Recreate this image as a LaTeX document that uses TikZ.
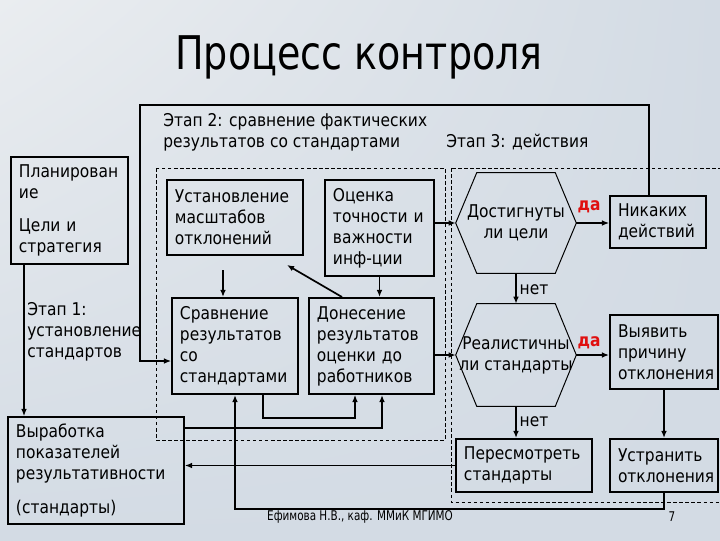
\documentclass[tikz,border=0pt]{standalone}
\usepackage{fontspec}
\setmainfont{DejaVu Sans}[FakeStretch=0.88]
\newfontfamily\titlefont{DejaVu Sans}[FakeStretch=0.82]
\newfontfamily\footfont{DejaVu Sans}[FakeStretch=0.78]
\usetikzlibrary{arrows.meta,calc,shadings}
\definecolor{bgmain}{HTML}{D3DBE4}
\definecolor{bglight}{HTML}{EAEDF0}
\definecolor{dared}{HTML}{E01010}
\newcommand\boxfnt{\fontsize{12.5pt}{14.9pt}\selectfont}
\tikzset{
  box/.style={draw=black, line width=1.4pt, align=left, inner xsep=0.2cm, inner ysep=0pt, font=\boxfnt},
  hexn/.style={inner sep=0pt, align=center, font=\boxfnt},
  hexline/.style={draw=black, line width=0.7pt},
  lbl/.style={inner sep=0pt, align=left, font=\boxfnt, anchor=west},
  yes/.style={inner sep=0pt, font=\boxfnt\bfseries, text=dared},
  arr/.style={line width=1.2pt, -{Latex[length=5pt,width=4pt]}},
  thinarr/.style={line width=0.8pt, -{Latex[length=5pt,width=4pt]}},
  stagebox/.style={draw=black, line width=0.6pt, dash pattern=on 2.5pt off 1.8pt},
}
\begin{document}
\begin{tikzpicture}[x=0.025cm,y=-0.025cm]
\useasboundingbox (0,0) rectangle (720,540);
\clip (0,0) rectangle (720,540);
\shade[upper left=bglight, upper right=bgmain, lower left=bgmain, lower right=bgmain] (0,0) rectangle (720,540);

% title
\node[inner sep=0pt, font=\titlefont\fontsize{33pt}{37pt}\selectfont] (title) at (359,57) {Процесс контроля};

% stage frames
\draw[stagebox] (156,168) rectangle (445,440);
\draw[stagebox] (451,168) rectangle (730,502);

% labels
\node[lbl] (l2) at (163,132) {Этап 2: сравнение фактических\\результатов со стандартами};
\node[lbl] (l3) at (446,142) {Этап 3: действия};
\node[lbl] (l1) at (27,332) {Этап 1:\\установление\\стандартов};

% boxes
\node[box, minimum width=2.925cm, minimum height=2.675cm, text width=2.525cm] (plan) at (69.5,210.5) {Планирован\\ие\\[8.5pt]Цели и\\стратегия};
\node[box, minimum width=4.4cm, minimum height=2.675cm, text width=4.0cm] (vyr) at (96,470.5) {Выработка\\показателей\\результативности\\[9pt](стандарты)};
\node[box, minimum width=3.4cm, minimum height=1.875cm, text width=3.0cm] (ust) at (235,217.5) {Установление\\масштабов\\отклонений};
\node[box, minimum width=2.725cm, minimum height=2.4cm, text width=2.325cm] (ocen) at (379.5,228) {Оценка\\точности и\\важности\\инф-ции};
\node[box, minimum width=3.15cm, minimum height=2.4cm, text width=2.75cm] (srav) at (235,346) {Сравнение\\результатов\\со\\стандартами};
\node[box, minimum width=3.125cm, minimum height=2.4cm, text width=2.725cm] (don) at (371.5,346) {Донесение\\результатов\\оценки до\\работников};
\node[box, minimum width=2.4cm, minimum height=1.3cm, text width=2.0cm] (nik) at (658,222) {Никаких\\действий};
\node[box, minimum width=2.7cm, minimum height=1.85cm, text width=2.3cm] (vyy) at (664,352) {Выявить\\причину\\отклонения};
\node[box, minimum width=2.7cm, minimum height=1.325cm, text width=2.3cm] (ustr) at (664,465.5) {Устранить\\отклонения};
\node[box, minimum width=3.4cm, minimum height=1.325cm, text width=3.0cm] (peres) at (524,465.5) {Пересмотреть\\стандарты};

% hexagons
\node[hexn, minimum width=3cm, minimum height=2.5cm] (h1) at (516,223) {Достигнуты\\ли цели};
\node[hexn, minimum width=3cm, minimum height=2.55cm] (h2) at (516,355) {Реалистичны\\ли стандарты};
\foreach \h in {h1,h2}{
  \draw[hexline] (\h.west) -- ([xshift=0.525cm]\h.north west) -- ([xshift=-0.525cm]\h.north east)
    -- (\h.east) -- ([xshift=-0.525cm]\h.south east) -- ([xshift=0.525cm]\h.south west) -- cycle;
}

% yes / no labels
\node[yes] (da1) at (589,207) {да};
\node[yes] (da2) at (589,343) {да};
\node[inner sep=0pt, font=\boxfnt] (net1) at (534,290) {нет};
\node[inner sep=0pt, font=\boxfnt] (net2) at (534,422) {нет};

% footer
\node[inner sep=0pt, font=\footfont\fontsize{9.5pt}{11pt}\selectfont] (foot) at (360,517) {Ефимова Н.В., каф. ММиК МГИМО};
\node[inner sep=0pt, font=\footfont\fontsize{9.5pt}{11pt}\selectfont] (pg) at (672,517) {7};

% connectors
\coordinate (nikTop) at ($(nik.north)+(-9,0)$);
\coordinate (sravIn) at ($(srav.west)+(0,15)$);
\draw[thinarr] (nikTop) |- (140,105) -- (140,361) -- (sravIn);

\coordinate (planOut) at ($(plan.south west)+(14,0)$);
\draw[thinarr] (planOut) -- (planOut |- vyr.north);

\coordinate (ustOut) at ($(ust.south)+(-12,0)$);
\draw[arr, shorten <=0.35cm] (ustOut) -- (ustOut |- srav.north);

\draw[arr] (ocen.south) -- (ocen.south |- don.north);

\coordinate (donTop) at ($(don.north)+(-29.5,0)$);
\coordinate (ustTip) at ($(ust.south east)+(-17,9)$);
\draw[arr] (donTop) -- (ustTip);

\coordinate (sravOut) at ($(srav.south)+(28,0)$);
\coordinate (donIn1) at ($(don.south)+(-16.5,0)$);
\draw[thinarr] (sravOut) -- ++(0,23) -| (donIn1);

\coordinate (vyrOut) at ($(vyr.north east)+(0,12)$);
\coordinate (donIn2) at ($(don.south)+(10.5,0)$);
\draw[arr] (vyrOut) -| (donIn2);

\draw[arr] (ustr.south) -- ++(0,16) -| (srav.south);

\draw[thinarr] (peres.west) -- (peres.west -| vyr.east);

\draw[arr] (h1.west -| ocen.east) -- (h1.west);
\draw[thinarr] (h1.east) -- (h1.east -| nik.west);
\draw[arr] (h1.south) -- (h2.north);
\draw[arr] (h2.west -| don.east) -- (h2.west);
\draw[arr] (h2.east) -- (h2.east -| vyy.west);
\draw[arr] (vyy.south) -- (ustr.north);
\draw[arr] (h2.south) -- (h2.south |- peres.north);
\end{tikzpicture}
\end{document}
